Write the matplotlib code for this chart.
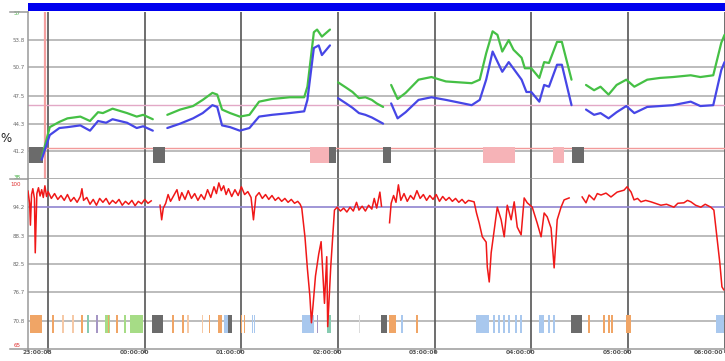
import matplotlib

matplotlib.use("Agg")

import matplotlib.pyplot as plt
import matplotlib.transforms as mtransforms
import numpy as np
from matplotlib.lines import Line2D
from matplotlib.patches import Rectangle

nan = np.nan

# time axis: minutes relative to 00:00:00
hour_ticks = [-60, 0, 60, 120, 180, 240, 300, 360]
hour_labels = ["23:00:03", "00:00:00", "01:00:00", "02:00:00", "03:00:00",
               "04:00:00", "05:00:00", "06:00:00"]

# upper panel
upper_ticks = [53.8, 50.7, 47.5, 44.3, 41.2]
upper_min, upper_max = 38, 57
upper_limit_hi = 46.4
upper_limit_lo = 41.5

green_t = [-64, -59, -53, -48, -40, -34, -29, -26, -20, -11, -5, -1, 5, nan,
           14, 22, 30, 36, 42, 45, 48, 53, 59, 65, 71, 79, 90, 99, 101, 105, 107, 110, 115, nan,
           120, 125, 129, 133, 137, 141, 144, 148, nan,
           153, 157, 162, 170, 178, 187, 195, 203, 208, 212, 216, 219, 222, 226, 229, 234,
           236, 240, 245, 248, 251, 256, 259, 265, nan,
           274, 279, 283, 288, 293, 299, 304, 312, 320, 328, 339, 345, 353, 358, 360]
green_v = [40.4, 43.9, 44.5, 44.9, 45.1, 44.6, 45.6, 45.5, 46.0, 45.5, 45.1, 45.3, 44.8, nan,
           45.3, 45.9, 46.3, 47.0, 47.8, 47.6, 45.9, 45.5, 45.1, 45.3, 46.8, 47.1, 47.3, 47.3, 48.5, 54.7, 55.0, 54.2, 55.0, nan,
           49.0, 48.4, 47.9, 47.2, 47.3, 47.0, 46.6, 46.2, nan,
           48.7, 47.1, 47.8, 49.3, 49.6, 49.1, 49.0, 48.9, 49.3, 52.3, 54.8, 54.4, 52.5, 53.8, 52.7, 51.8,
           50.6, 50.6, 49.5, 51.3, 51.2, 53.6, 53.6, 49.3, nan,
           48.7, 48.1, 48.5, 47.6, 48.7, 49.3, 48.5, 49.3, 49.5, 49.6, 49.8, 49.6, 49.8, 53.5, 54.4]

blue_t = [-64, -59, -53, -48, -40, -34, -29, -24, -20, -11, -5, -1, 5, nan,
          14, 22, 30, 36, 42, 45, 48, 53, 59, 65, 71, 79, 90, 99, 101, 105, 108, 110, 115, nan,
          120, 125, 129, 133, 137, 141, 144, 148, nan,
          153, 157, 162, 170, 178, 187, 195, 203, 208, 212, 216, 222, 226, 234, 237,
          240, 245, 248, 251, 256, 259, 265, nan,
          274, 279, 283, 288, 293, 299, 304, 312, 320, 328, 339, 345, 353, 358, 360]
blue_v = [40.2, 43.0, 43.8, 43.9, 44.1, 43.5, 44.6, 44.4, 44.8, 44.4, 43.8, 44.0, 43.5, nan,
          43.8, 44.3, 44.9, 45.5, 46.4, 46.2, 44.1, 43.9, 43.5, 43.8, 45.1, 45.3, 45.5, 45.7, 47.0, 52.9, 53.2, 52.1, 53.2, nan,
          47.2, 46.6, 46.1, 45.5, 45.3, 45.0, 44.7, 44.3, nan,
          46.6, 44.9, 45.6, 47.0, 47.3, 47.0, 46.7, 46.4, 47.0, 49.3, 52.5, 50.2, 51.3, 49.3, 47.9,
          47.9, 46.8, 48.7, 48.5, 51.0, 51.0, 46.4, nan,
          45.9, 45.3, 45.5, 44.9, 45.6, 46.3, 45.5, 46.2, 46.3, 46.4, 46.8, 46.3, 46.4, 50.4, 51.3]

upper_ev_start = [-71.9, 5.0, 114.7, 148.1, 265.3, 102.3, 210.1, 253.5]
upper_ev_end = [-63.2, 12.4, 119.0, 153.1, 272.7, 114.7, 229.9, 260.3]
upper_ev_kind = ["gray", "gray", "gray", "gray", "gray", "pink", "pink", "pink"]

# lower panel
lower_ticks = [94.2, 88.3, 82.5, 76.7, 70.8]
lower_min, lower_max = 65, 100
lower_limit = 94.2

red_t = [-72.5, -71.5, -71.0, -70.3, -69.5, -68.5, -68.0, -67.0, -66, -65, -64, -63, -62, -61, -60,
         -58, -56, -54, -52, -50, -48, -46, -44, -42, -40, -39, -38, -36, -34, -32, -30, -28,
         -26, -24, -22, -20, -18, -16, -14, -12, -10, -8, -6, -4, -2, 0, 2, 4, nan,
         9.5, 10.5, 11.5, 13, 14.5, 16, 18, 20, 21.5, 23, 25, 27, 29, 31, 33, 35, 37, 39, 41,
         43, 44.5, 46, 47.5, 49, 50.5, 52, 54, 56, 58, 60, 62, 64, 66, 67.5, 69, 71, 73, 75,
         77, 79, 81, 83, 85, 87, 89, 91, 93, 95, 96.5, 97.5, 99.5, 101, 102.5, 103.5, 104.5,
         106, 108, 109.5, 111.6, 113.0, 113.6, 115.5, 117.8, 119.5, 121.5, 123.5, 125.5,
         127.5, 129.5, 131.5, 133, 135, 137, 139, 141, 142.5, 144, 146, 147, nan,
         152, 153, 154.5, 156, 157.5, 159, 161, 163, 165, 167, 169, 171, 173, 175, 177, 179,
         181, 183, 185, 187, 189, 191, 193, 195, 197, 199, 201, 203.3, 204.5, 206, 207.7,
         209.6, 212.0, 212.7, 213.9, 215.1, 217.0, 218.9, 221.3, 223.2, 225.1, 227.5, 229.4,
         231.3, 233.7, 235.6, 237.5, 240.6, 243.7, 246.1, 248.0, 249.9, 252.3, 254.2, 256.1,
         258.5, 260.4, 263.5, nan,
         271.6, 274.0, 275.9, 279.0, 281, 283.3, 286.4, 289.5, 293.3, 297.6, 299.5, 302.0,
         303.8, 306, 308.1, 311, 314.3, 317, 320.5, 324, 328.6, 331, 334.8, 337, 339.1, 342,
         345.3, 348, 351.5, 353.4, 355.3, 357.1, 358.4, 359.5]
red_v = [97.5, 95.0, 90.5, 96.8, 98.0, 96.0, 84.8, 97.0, 98.2, 96.5, 97.8, 96.2, 98.6, 96.4, 97.4,
         96.0, 97.0, 95.8, 96.6, 95.6, 96.8, 95.4, 96.2, 95.2, 96.4, 98.0, 95.6, 96.2, 94.8, 95.8, 94.6, 96.0,
         95.2, 96.0, 94.8, 95.6, 95.0, 95.8, 94.6, 95.4, 94.8, 95.6, 94.5, 95.4, 94.9, 95.8, 95.0, 95.5, nan,
         94.6, 91.6, 94.0, 95.0, 96.8, 95.4, 96.6, 97.8, 95.6, 97.2, 95.8, 97.6, 96.0, 97.0, 95.6, 96.8, 95.8, 97.8, 96.2,
         98.4, 97.0, 99.2, 97.6, 98.6, 96.8, 98.0, 96.4, 97.8, 96.6, 98.4, 96.8, 97.4, 96.2, 91.6, 96.4, 97.2, 96.0, 96.8,
         95.8, 96.6, 95.6, 96.2, 95.4, 96.0, 95.2, 95.8, 95.0, 95.4, 94.8, 94.0, 88.0, 81.5, 76.0, 70.4, 74.0,
         80.0, 84.5, 87.1, 74.4, 84.0, 69.6, 82.0, 93.6, 94.2, 93.4, 94.0, 93.2,
         94.2, 93.4, 95.2, 93.6, 94.4, 93.4, 94.6, 93.8, 96.0, 94.0, 97.3, 94.4, nan,
         91.0, 95.0, 96.6, 95.2, 98.8, 95.6, 97.0, 95.4, 96.6, 95.8, 97.6, 96.0, 96.8, 95.6, 96.6, 95.8,
         96.8, 95.4, 96.4, 95.6, 96.2, 95.4, 96.0, 95.2, 95.8, 95.0, 95.6, 95.4, 95.3, 93.0, 90.9,
         88.1, 87.0, 81.9, 78.8, 84.8, 89.5, 94.2, 91.6, 88.1, 94.6, 91.6, 95.3,
         90.1, 88.5, 96.1, 95.1, 94.2, 90.9, 88.1, 93.0, 92.2, 89.9, 81.7, 91.6,
         94.2, 95.7, 96.1, nan,
         96.3, 95.1, 96.7, 95.7, 97.0, 96.7, 97.1, 96.3, 97.3, 97.7, 98.4, 97.3,
         95.7, 96.0, 95.3, 95.6, 95.3, 95.0, 94.6, 94.8, 94.2, 95.0, 95.1, 95.6, 95.3, 94.6,
         94.2, 94.8, 94.2, 93.6, 88.1, 82.7, 77.8, 77.2]

lower_ev_start = [-71.3, -57.5, -51.3, -45.1, -39.5, -35.8, -30.2, -24.8, -23.0, -17.9, -12.9, -9.3,
                  4.3, 16.9, 23.1, 26.2, 35.4, 39.8, 45.2, 49.0, 51.4, 59.6, 61.5, 66.5, 67.7,
                  97.9, 106.7, 113.4, 132.8, 146.9, 151.9, 159.4, 168.7,
                  205.8, 216.4, 219.5, 222.6, 225.7, 230.1, 233.2, 244.8, 250.5, 253.6,
                  264.7, 275.3, 284.6, 287.7, 289.6, 298.8, 354.5]
lower_ev_end = [-63.8, -56.5, -50.3, -44.1, -38.5, -34.8, -29.2, -21.7, -22.0, -16.9, -11.9, -1.2,
                11.2, 17.9, 24.1, 27.2, 36.4, 40.8, 47.7, 51.4, 53.9, 60.6, 62.5, 67.5, 68.7,
                105.4, 107.7, 115.9, 133.8, 150.6, 156.2, 160.4, 169.7,
                213.8, 217.4, 220.5, 223.6, 226.7, 231.1, 234.2, 247.9, 251.5, 254.6,
                271.5, 276.3, 285.6, 288.7, 290.6, 301.8, 359.5]
lower_ev_kind = ["orange", "orange", "peach", "peach", "orange", "teal", "purple", "green", "orange",
                 "orange", "green", "green",
                 "gray", "orange", "orange", "peach", "peach", "orange", "orange", "blue", "gray",
                 "orange", "orange", "blue", "blue",
                 "blue", "purple", "teal", "light", "gray", "orange", "blue", "orange",
                 "blue", "blue", "blue", "blue", "blue", "blue", "blue", "blue", "blue", "blue",
                 "gray", "orange", "orange", "orange", "orange", "orange", "blue"]

ev_colors = {"gray": "#6b6b6b", "pink": "#f6b3b7", "orange": "#f0a566", "peach": "#f6c9a6",
             "green": "#a6dc86", "blue": "#a9c8ee", "teal": "#86cbb0", "purple": "#a596c4",
             "light": "#dcdcdc"}

W, H = 725, 361
fig = plt.figure(figsize=(W / 100, H / 100), dpi=100)
x0 = 28 / W
ax_top = fig.add_axes([x0, 182 / H, 1 - x0, 167 / H])
ax_bot = fig.add_axes([x0, 12 / H, 1 - x0, 170 / H])

grid_kw = dict(color="#a9a9a9", lw=1.1, zorder=0)
label_kw = dict(fontsize=4, color="#6a6a6a")

for ax, lo, hi, ticks in [(ax_top, upper_min, upper_max, upper_ticks),
                          (ax_bot, lower_min, lower_max, lower_ticks)]:
    ax.set_xlim(-72.5, 360.3)
    ax.set_ylim(lo, hi)
    ax.set_yticks(ticks)
    ax.set_yticklabels([f"{t:.1f}" for t in ticks], **label_kw)
    ax.tick_params(axis="y", length=0, pad=2.2)
    for t in ticks:
        ax.axhline(t, **grid_kw)
    for h in hour_ticks:
        ax.axvline(h, color="#5c5c5c", lw=1.25, zorder=1)
    for side in ["top", "right"]:
        ax.spines[side].set_visible(False)
    for side in ["left", "bottom"]:
        ax.spines[side].set_color("#9a9a9a")
        ax.spines[side].set_linewidth(1.1)

ax_top.set_xticks([])
ax_bot.set_xticks(hour_ticks)
ax_bot.set_xticklabels([])
ax_bot.tick_params(axis="x", length=3, width=1.2, color="#5c5c5c")

# x labels sit to the left of their tick; the last one is kept inside the figure
for i, (h, lab) in enumerate(zip(hour_ticks, hour_labels)):
    dx = 4 if i < len(hour_ticks) - 1 else -1
    off = mtransforms.offset_copy(ax_bot.get_xaxis_transform(), fig=fig, x=dx, y=-4, units="dots")
    ax_bot.text(h, 0, lab, transform=off, ha="right", va="center",
                fontsize=4.3, fontweight="bold", color="#555555", clip_on=False)

# end-of-scale labels
ytrans_top = mtransforms.blended_transform_factory(ax_top.transAxes, ax_top.transData)
ytrans_bot = mtransforms.blended_transform_factory(ax_bot.transAxes, ax_bot.transData)
ax_top.text(-0.01, 56.8, "57", transform=ytrans_top, ha="right", va="center", fontsize=4, color="#3fae3f")
ax_top.text(-0.01, 38.2, "38", transform=ytrans_top, ha="right", va="center", fontsize=4, color="#3fae3f")
ax_bot.text(-0.01, 98.8, "100", transform=ytrans_bot, ha="right", va="center", fontsize=4, color="#e03030")
ax_bot.text(-0.01, 65.8, "65", transform=ytrans_bot, ha="right", va="center", fontsize=4, color="#e03030")

# threshold lines
ax_top.axhline(upper_limit_hi, color="#e2a8c6", lw=1.0, zorder=1)
ax_top.axhline(upper_limit_lo, color="#f29a9a", lw=1.0, zorder=1)
ax_bot.axhline(lower_limit, color="#9a8ee0", lw=1.1, zorder=1)
ax_top.axvline(-62.0, color="#f4a0a0", lw=1.6, zorder=1)

# event blocks
for s, e, k in zip(upper_ev_start, upper_ev_end, upper_ev_kind):
    ax_top.broken_barh([(s, e - s)], (39.82, 1.82), color=ev_colors[k], zorder=2, lw=0)
for s, e, k in zip(lower_ev_start, lower_ev_end, lower_ev_kind):
    ax_bot.broken_barh([(s, e - s)], (68.3, 3.7), color=ev_colors[k], zorder=2, lw=0)

ax_top.plot(green_t, green_v, color="#45c045", lw=1.6, zorder=3, solid_capstyle="round")
ax_top.plot(blue_t, blue_v, color="#4646e6", lw=1.6, zorder=3, solid_capstyle="round")
ax_bot.plot(red_t, red_v, color="#f01818", lw=1.1, zorder=3)

# blue status bar across the top
fig.add_artist(Rectangle((x0, 350 / H), 1 - x0, 8 / H, transform=fig.transFigure,
                         facecolor="#0000ee", edgecolor="none"))

# separator and base lines running under the scale labels
for yy in [12, 179, 349]:
    fig.add_artist(Line2D([10 / W, x0], [1 - yy / H, 1 - yy / H], transform=fig.transFigure,
                          color="#9a9a9a", lw=1.1))

fig.text(0.5 / W, 1 - 138 / H, "%", ha="left", va="center", fontsize=8.5, color="#222222")

fig.savefig("out.png", dpi=100)
